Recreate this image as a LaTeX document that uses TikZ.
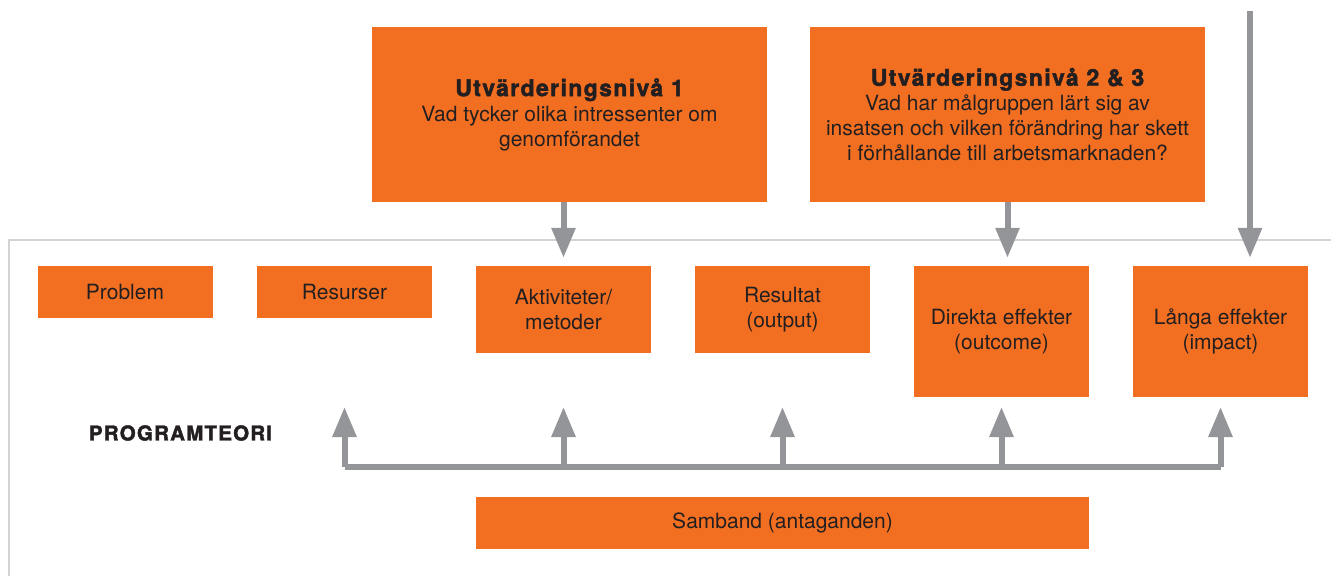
\documentclass[tikz,border=0pt]{standalone}
\usepackage{fontspec}
\usepackage{xcolor}
\setmainfont{TeX Gyre Heros}
\newfontfamily\headfont[LetterSpace=6,BoldFeatures={FakeBold=2}]{TeX Gyre Heros}
\usetikzlibrary{positioning,arrows.meta}
\definecolor{boxorange}{HTML}{F26F22}
\definecolor{arrowgray}{HTML}{939598}
\definecolor{framegray}{HTML}{D1D3D4}
\definecolor{inkgray}{HTML}{231F20}
\tikzset{%
stage/.style={fill=boxorange,minimum width=175pt,inner sep=0,align=center,text=inkgray,font=\fontsize{21}{25}\selectfont},
question/.style={stage,minimum width=395pt,minimum height=175pt},
link/.style={draw=arrowgray,line width=6pt,-{Triangle[length=30pt,width=23pt]}},
bus/.style={draw=arrowgray,line width=6pt},
frame/.style={draw=framegray,line width=1.5pt}
}

\begin{document}
\begin{tikzpicture}[x=1pt,y=-1pt]
  \useasboundingbox (0,0) rectangle (1331,576);

  % the frame round the programme theory
  \draw[frame] (9,576) -- (9,240) -- (1331,240);

  % evaluation levels
  \node[question] (level1) at (569.5,114.5)
    {{\headfont\bfseries\fontsize{23}{27}\selectfont Utvärderingsnivå 1}\\
     Vad tycker olika intressenter om\\ genomförandet};
  \node[question] (level23) at (1007.5,114.5)
    {{\headfont\bfseries\fontsize{23}{27}\selectfont Utvärderingsnivå 2 \& 3}\\
     Vad har målgruppen lärt sig av\\
     insatsen och vilken förändring har skett\\
     i förhållande till arbetsmarknaden?};

  % the chain
  \node[stage,minimum height=52pt] (problem) at (125,292) {Problem};
  \node[stage,minimum height=52pt] (resources) at (344.5,292) {Resurser};
  \node[stage,minimum height=87pt] (activities) at (563.5,309.5) {Aktiviteter/\\metoder};
  \node[stage,minimum height=87pt] (output) at (782.5,309.5) {Resultat\\(output)};
  \node[stage,minimum height=131pt] (outcome) at (1001.5,331.5) {Direkta effekter\\(outcome)};
  \node[stage,minimum height=131pt] (impact) at (1220.5,331.5) {Långa effekter\\(impact)};

  \node[stage,minimum width=613pt,minimum height=52pt] (links) at (782.5,523) {Samband (antaganden)};
  \node[text=inkgray,inner sep=0] (theory) at (180.5,433)
    {\headfont\bfseries\fontsize{20.5}{24}\selectfont PROGRAMTEORI};

  % arrows from the evaluation levels
  \draw[link,shorten >=8pt] (activities.north |- level1.south) -- (activities.north);
  \draw[link,shorten >=8pt] (level23.south) -- (level23.south |- outcome.north);
  \coordinate (impacttop) at (1250,11);
  \draw[link,shorten >=8pt] (impacttop) -- (impacttop |- impact.north);

  % assumptions bus
  \coordinate (busline) at (0,467);
  \coordinate (tipline) at (0,407);
  \draw[bus] (resources.south |- busline) -- (impact.south |- busline);
  \foreach \n in {resources,activities,output,outcome,impact}
    \draw[link] (\n.south |- busline) -- (\n.south |- tipline);
\end{tikzpicture}
\end{document}
